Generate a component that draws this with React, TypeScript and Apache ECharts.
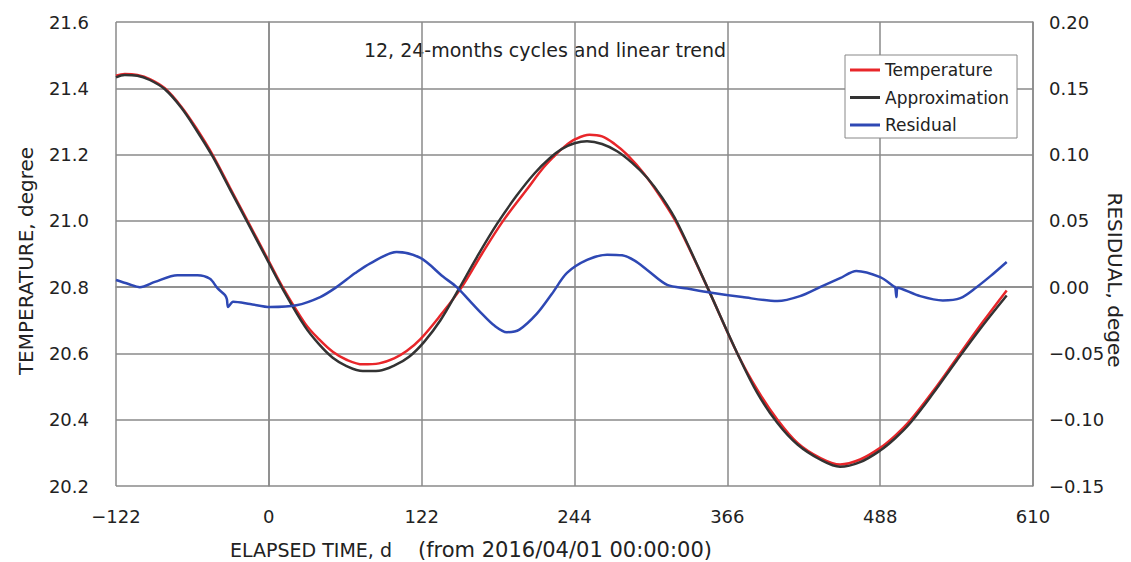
import React, { useEffect, useRef } from "react";
import * as echarts from "echarts";

// Measured temperature, degree, by elapsed day
const temperatureDays = [
  -122, -115, -105, -95, -83, -70, -58, -45, -31, -17, -3, 11, 29, 40, 51, 62, 75, 88,
  100, 110, 121, 137, 154, 170, 187, 207, 218, 227, 236, 245, 256, 266, 276, 286, 300,
  313, 326, 350, 374, 390, 406, 422, 440, 456, 472, 488, 500, 512, 530, 549, 569, 589,
];
const temperature = [
  21.438, 21.443, 21.44, 21.428, 21.4, 21.345, 21.28, 21.2, 21.1, 21.0, 20.9, 20.8, 20.69,
  20.643, 20.605, 20.581, 20.567, 20.57, 20.585, 20.607, 20.643, 20.715, 20.8, 20.9, 21.0,
  21.1, 21.155, 21.192, 21.224, 21.247, 21.26, 21.255, 21.232, 21.2, 21.14, 21.07, 20.99,
  20.8, 20.6, 20.49, 20.4, 20.33, 20.285, 20.265, 20.28, 20.315, 20.352, 20.398, 20.485,
  20.585, 20.69, 20.79,
];

// 12, 24-month cycles plus linear trend fit, degree
const approximationDays = [
  -122, -115, -105, -95, -83, -70, -58, -45, -31, -17, -3, 11, 29, 40, 51, 62, 75, 88,
  100, 112, 124, 137, 151, 166, 182, 198, 212, 224, 234, 244, 254, 266, 278, 290, 302,
  314, 326, 350, 374, 390, 406, 422, 440, 456, 472, 488, 500, 512, 530, 549, 569, 589,
];
const approximation = [
  21.433, 21.44, 21.438, 21.425, 21.397, 21.342, 21.275, 21.195, 21.095, 20.995, 20.895,
  20.795, 20.68, 20.628, 20.587, 20.562, 20.547, 20.548, 20.563, 20.59, 20.635, 20.7,
  20.79, 20.89, 20.99, 21.077, 21.143, 21.188, 21.217, 21.234, 21.24, 21.232, 21.21,
  21.175, 21.13, 21.07, 20.995, 20.8, 20.6, 20.48, 20.39, 20.325, 20.28, 20.258, 20.272,
  20.307, 20.344, 20.39, 20.478, 20.578, 20.68, 20.775,
];

// Residual of the fit (right axis)
const residualDays = [
  -122, -112, -103, -91, -73, -57, -47, -41, -35, -33.5, -32.5, -28.5, -15, 1, 22, 41,
  54, 69, 81, 102, 121, 139, 150, 160, 170, 180, 190, 200, 214, 226, 238, 254, 270, 282,
  292, 302, 318, 334, 352, 378, 406, 424, 440, 456, 469, 488, 499, 500, 501, 502, 520,
  538, 552, 565, 576, 589,
];
const residual = [
  0.0054, 0.0024, 0.0, 0.004, 0.009, 0.009, 0.0063, -0.0008, -0.006, -0.009, -0.015,
  -0.011, -0.0127, -0.015, -0.0137, -0.0075, 0.0, 0.0106, 0.018, 0.0265, 0.022, 0.008,
  0.0, -0.01, -0.02, -0.029, -0.034, -0.032, -0.02, -0.005, 0.0107, 0.0205, 0.0245,
  0.024, 0.02, 0.013, 0.0017, -0.001, -0.004, -0.0075, -0.0105, -0.0068, 0.0, 0.0068,
  0.0122, 0.0075, 0.0005, 0.0, -0.0075, -0.0005, -0.0068, -0.01, -0.0083, 0.0, 0.0083,
  0.019,
];

const FONT = "DejaVu Sans";
const TEXT = "#222";
const GRID = "#8a8a8a";

const pairs = (xs: number[], ys: number[]) => xs.map((x, i) => [x, ys[i]]);
const minus = (s: string) => s.replace("-", "\u2212");

export default function App() {
  const ref = useRef<HTMLDivElement>(null);

  useEffect(() => {
    if (!ref.current) return;
    const chart = echarts.init(ref.current, undefined, { renderer: "svg" });
    chart.setOption({
      animation: false,
      backgroundColor: "#fff",
      grid: { left: 116, right: 98, top: 22, bottom: 76, containLabel: false },
      legend: {
        left: 845,
        top: 55,
        orient: "vertical",
        icon: "rect",
        itemWidth: 30,
        itemHeight: 3,
        itemGap: 9.5,
        padding: [6, 8, 4, 5],
        backgroundColor: "#fff",
        borderColor: "#888",
        borderWidth: 1,
        borderRadius: 0,
        textStyle: { fontFamily: FONT, fontSize: 17, lineHeight: 18, color: TEXT },
        data: ["Temperature", "Approximation", "Residual"],
      },
      xAxis: {
        type: "value",
        min: -122,
        max: 610,
        interval: 122,
        axisLine: { show: true, lineStyle: { color: GRID, width: 1.5 } },
        axisTick: { show: false },
        splitLine: { show: true, lineStyle: { color: GRID, width: 1.5 } },
        axisLabel: {
          margin: 21,
          fontFamily: FONT,
          fontSize: 18,
          color: TEXT,
          formatter: (v: number) => minus(String(v)),
        },
      },
      yAxis: [
        {
          type: "value",
          min: 20.2,
          max: 21.6,
          interval: 0.2,
          axisLine: { show: true, lineStyle: { color: GRID, width: 1.5 } },
          axisTick: { show: false },
          splitLine: { show: true, lineStyle: { color: GRID, width: 1.5 } },
          axisLabel: {
            margin: 27,
            fontFamily: FONT,
            fontSize: 18,
            color: TEXT,
            formatter: (v: number) => v.toFixed(1),
          },
        },
        {
          type: "value",
          position: "right",
          min: -0.15,
          max: 0.2,
          interval: 0.05,
          axisLine: { show: true, lineStyle: { color: GRID, width: 1.5 } },
          axisTick: { show: false },
          splitLine: { show: false },
          axisLabel: {
            margin: 16,
            fontFamily: FONT,
            fontSize: 18,
            color: TEXT,
            formatter: (v: number) => minus(v.toFixed(2)),
          },
        },
      ],
      series: [
        {
          name: "Temperature",
          type: "line",
          yAxisIndex: 0,
          data: pairs(temperatureDays, temperature),
          smooth: 0.35,
          symbol: "none",
          color: "#e8262a",
          lineStyle: { color: "#e8262a", width: 2.5 },
        },
        {
          name: "Approximation",
          type: "line",
          yAxisIndex: 0,
          data: pairs(approximationDays, approximation),
          smooth: 0.35,
          symbol: "none",
          color: "#333333",
          lineStyle: { color: "#333333", width: 2.5 },
        },
        {
          name: "Residual",
          type: "line",
          yAxisIndex: 1,
          data: pairs(residualDays, residual),
          smooth: 0.3,
          symbol: "none",
          color: "#2e48b4",
          lineStyle: { color: "#2e48b4", width: 2.5 },
        },
      ],
      graphic: [
        {
          type: "text",
          x: 545,
          y: 50,
          style: {
            text: "12, 24-months cycles and linear trend",
            font: `19px "${FONT}"`,
            fill: TEXT,
            align: "center",
            verticalAlign: "middle",
          },
        },
        {
          type: "text",
          x: 230,
          y: 550,
          style: {
            text: "ELAPSED TIME, d",
            font: `19px "${FONT}"`,
            fill: TEXT,
            align: "left",
            verticalAlign: "middle",
          },
        },
        {
          type: "text",
          x: 418,
          y: 550,
          style: {
            text: "(from 2016/04/01 00:00:00)",
            font: `21px "${FONT}"`,
            fill: TEXT,
            align: "left",
            verticalAlign: "middle",
          },
        },
        {
          type: "text",
          x: 26,
          y: 261,
          rotation: Math.PI / 2,
          style: {
            text: "TEMPERATURE, degree",
            font: `20px "${FONT}"`,
            fill: TEXT,
            align: "center",
            verticalAlign: "middle",
          },
        },
        {
          type: "text",
          x: 1115,
          y: 280,
          rotation: -Math.PI / 2,
          style: {
            text: "RESIDUAL, degee",
            font: `20px "${FONT}"`,
            fill: TEXT,
            align: "center",
            verticalAlign: "middle",
          },
        },
      ],
    });
    return () => chart.dispose();
  }, []);

  return (
    <div
      ref={ref}
      style={{ position: "fixed", left: 0, top: 0, width: 1131, height: 562, background: "#fff" }}
    />
  );
}
